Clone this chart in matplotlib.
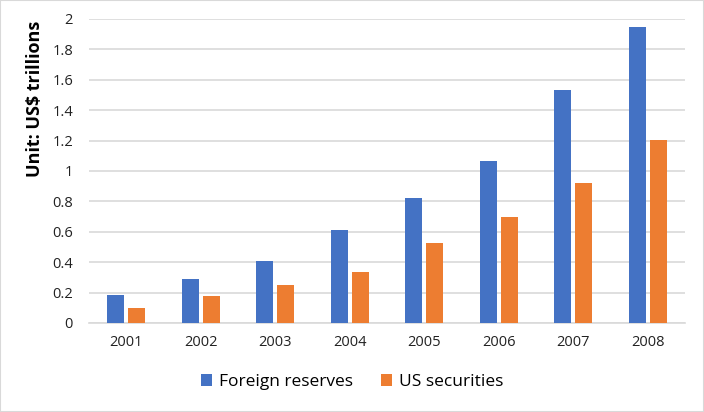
import matplotlib
matplotlib.use("Agg")
import matplotlib.pyplot as plt
import numpy as np
from matplotlib.patches import Rectangle

years = ["2001", "2002", "2003", "2004", "2005", "2006", "2007", "2008"]
foreign_reserves = [0.185, 0.29, 0.406, 0.612, 0.82, 1.066, 1.53, 1.947]
us_securities = [0.097, 0.178, 0.253, 0.338, 0.526, 0.70, 0.921, 1.206]
yticks = [0, 0.2, 0.4, 0.6, 0.8, 1, 1.2, 1.4, 1.6, 1.8, 2]
ytick_labels = ["0", "0.2", "0.4", "0.6", "0.8", "1", "1.2", "1.4", "1.6", "1.8", "2"]

plt.rcParams['font.family'] = ['Open Sans', 'DejaVu Sans']

fig = plt.figure(figsize=(7.04, 4.12), dpi=100)
W, H = 704, 412
ax = fig.add_axes([89 / W, 1 - 323 / H, (685 - 89) / W, (323 - 19) / H])

x = np.arange(len(years))
w = 0.228
off = 0.143
ax.bar(x - off, foreign_reserves, w, color="#4472C4", label="Foreign reserves", zorder=3)
ax.bar(x + off, us_securities, w, color="#ED7D31", label="US securities", zorder=3)

ax.set_xlim(-0.5, len(years) - 0.5)
ax.set_ylim(0, 2)
ax.set_yticks(yticks)
ax.set_yticklabels(ytick_labels)
ax.set_xticks(x)
ax.set_xticklabels(years)
ax.grid(axis="y", color="#d9d9d9", linewidth=1.2, zorder=0)
for s in ["top", "right", "left"]:
    ax.spines[s].set_visible(False)
ax.spines["bottom"].set_color("#d9d9d9")
ax.spines["bottom"].set_linewidth(1.2)
ax.tick_params(axis="both", length=0, labelsize=10.5, colors="#222222")
ax.tick_params(axis="y", pad=11.5)
ax.tick_params(axis="x", pad=9)
ax.set_ylabel("Unit: US$ trillions", fontsize=13, fontweight="bold")
ax.yaxis.set_label_coords((44 - 89) / (685 - 89), (323 - 99) / (323 - 19))

fig.legend(loc="center", bbox_to_anchor=(0.5, 1 - 382 / H), ncol=2, frameon=False,
           fontsize=12.5, handlelength=0.65, handleheight=0.65, columnspacing=1.6,
           handletextpad=0.4)

fig.patches.append(Rectangle((0, 0), 1, 1, transform=fig.transFigure, fill=False,
                             edgecolor="#d9d9d9", linewidth=1.5))

fig.savefig("out.png", dpi=100)
